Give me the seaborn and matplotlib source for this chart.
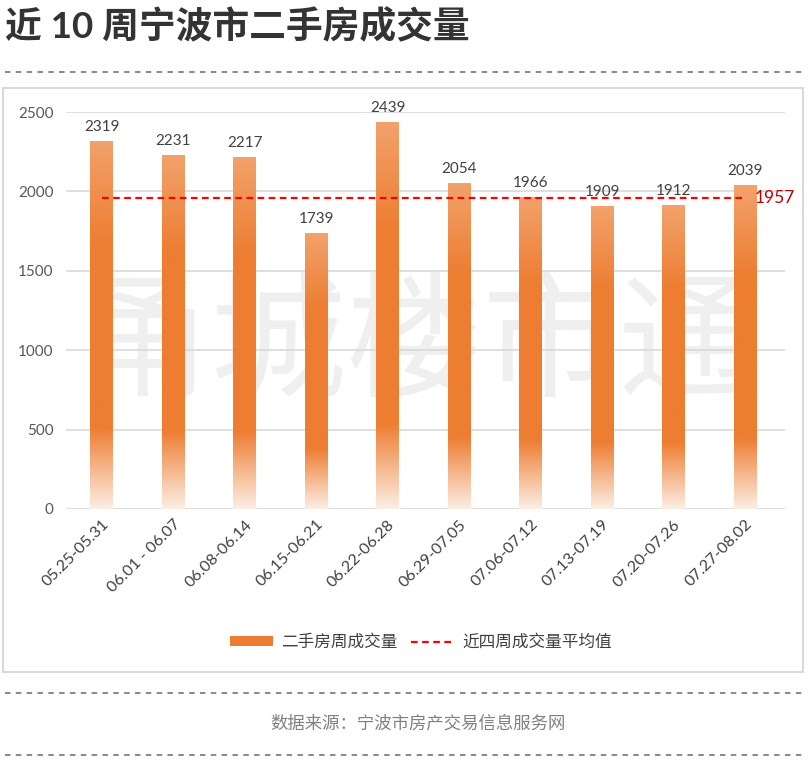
import numpy as np
import pandas as pd
import matplotlib
matplotlib.use("Agg")
import matplotlib.pyplot as plt
from matplotlib.colors import LinearSegmentedColormap
from matplotlib.patches import Patch, Rectangle
from matplotlib.lines import Line2D
import seaborn as sns

# data
weeks = ["05.25-05.31", "06.01 - 06.07", "06.08-06.14", "06.15-06.21", "06.22-06.28",
         "06.29-07.05", "07.06-07.12", "07.13-07.19", "07.20-07.26", "07.27-08.02"]
volumes = [2319, 2231, 2217, 1739, 2439, 2054, 1966, 1909, 1912, 2039]
avg_value = 1957
y_ticks = [0, 500, 1000, 1500, 2000, 2500]

title = "近 10 周宁波市二手房成交量"
bar_name = "二手房周成交量"
avg_name = "近四周成交量平均值"
source = "数据来源：宁波市房产交易信息服务网"
watermark = "甬城楼市通"

ORANGE = "#ED7D31"

sns.set_theme(style="white")
plt.rcParams["font.family"] = ["Lato", "Noto Sans CJK SC", "DejaVu Sans"]

W, H = 808, 760
fig = plt.figure(figsize=(W / 100, H / 100), dpi=100)

def fx(px):
    return px / W

def fy(py):
    return 1 - py / H

# title + separators
fig.text(fx(5), fy(26), title, fontsize=26.5, fontweight="bold", color="#333333",
         ha="left", va="center", family=["Lato", "Noto Sans CJK SC"])
for yy in (72, 693, 755):
    fig.add_artist(Line2D([fx(5), fx(803)], [fy(yy), fy(yy)], color="#7F7F7F",
                          lw=1.3, linestyle=(0, (3, 3)), transform=fig.transFigure))

# chart frame
fig.add_artist(Rectangle((fx(3), fy(672)), fx(800), (672 - 88) / H, fill=False,
                         edgecolor="#D9D9D9", lw=1.5, transform=fig.transFigure))

ax = fig.add_axes([fx(66), fy(509), fx(719), (509 - 112) / H])

df = pd.DataFrame({"week": weeks, "volume": volumes})
sns.barplot(data=df, x="week", y="volume", color=ORANGE, width=0.32, ax=ax,
            saturation=1, zorder=2)

# gradient fill inside each bar
cmap = LinearSegmentedColormap.from_list(
    "bar", [(0.0, "#FCEEE3"), (0.22, ORANGE), (0.72, ORANGE), (1.0, "#F2A26C")])
grad = np.linspace(0, 1, 256).reshape(-1, 1)
for p in ax.patches:
    x0, w, h = p.get_x(), p.get_width(), p.get_height()
    p.set_facecolor("none")
    p.set_edgecolor("none")
    im = ax.imshow(grad, extent=[x0, x0 + w, 0, h], origin="lower", aspect="auto",
                   cmap=cmap, zorder=2, interpolation="bilinear")
    im.set_clip_path(p)

ax.bar_label(ax.containers[0], padding=5, fontsize=11, color="#404040")

# average line of the last four weeks
ax.plot([0, len(weeks) - 1], [avg_value, avg_value], color="#FF0000", lw=1.6,
        linestyle=(0, (3, 2)), zorder=3)
ax.text(len(weeks) - 1 + 0.14, avg_value, f"{avg_value}", color="#C00000",
        fontsize=12.5, va="center", ha="left")

ax.set_xlim(-0.5, 9.56)
ax.set_ylim(0, 2500)
ax.set_yticks(y_ticks)
ax.yaxis.grid(True, color="#D9D9D9", lw=1.2)
ax.set_axisbelow(True)
for s in ax.spines.values():
    s.set_visible(False)
ax.set_xlabel("")
ax.set_ylabel("")
ax.tick_params(axis="y", length=0, pad=9, labelsize=11, labelcolor="#595959")
ax.tick_params(axis="x", length=0, pad=6, labelsize=11.5, labelcolor="#404040")
plt.setp(ax.get_xticklabels(), rotation=45, ha="right", rotation_mode="anchor")

# watermark behind the bars
ax.text(0.485, 0.41, watermark, transform=ax.transAxes, fontsize=98, color="#EFEFEF",
        ha="center", va="center", zorder=0.5, family=["Noto Sans CJK SC"],
        fontweight="light")

handles = [Patch(facecolor=ORANGE, edgecolor="none"),
           Line2D([0], [0], color="#FF0000", lw=1.6, linestyle=(0, (3, 2)))]
fig.legend(handles, [bar_name, avg_name], loc="center", bbox_to_anchor=(fx(421), fy(642)),
           ncol=2, frameon=False, fontsize=12, handlelength=2.6, handleheight=0.55,
           columnspacing=0.8, handletextpad=0.5, labelcolor="#404040")

fig.text(fx(418), fy(723), source, fontsize=12.5, color="#808080", ha="center", va="center")

fig.savefig("out.png", dpi=100)
